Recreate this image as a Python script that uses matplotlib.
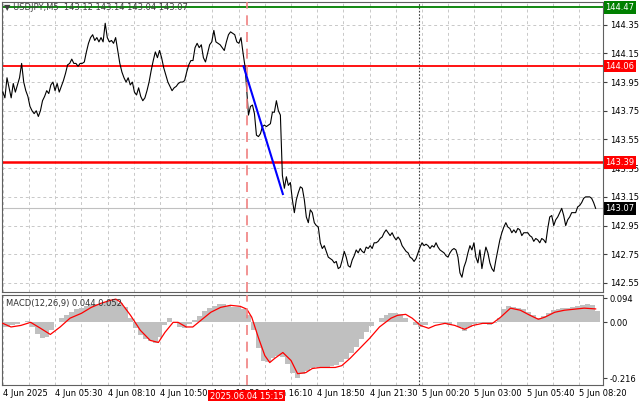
import numpy as np
import matplotlib
matplotlib.use('Agg')
import matplotlib.pyplot as plt

# price closes, first session (up to the 15:15 event) and after it
close_a = [143.88, 143.84, 143.98, 143.91, 143.84, 143.94, 143.88, 143.93, 143.98, 144.08, 143.95, 143.89,
           143.85, 143.78, 143.75, 143.73, 143.75, 143.71, 143.75, 143.82, 143.85, 143.89, 143.87, 143.93,
           143.95, 143.89, 143.94, 143.88, 143.92, 143.96, 144.01, 144.07, 144.08, 144.11, 144.08, 144.08,
           144.06, 144.08, 144.08, 144.09, 144.16, 144.22, 144.26, 144.28, 144.24, 144.26, 144.23, 144.26,
           144.23, 144.36, 144.26, 144.23, 144.24, 144.22, 144.26, 144.17, 144.08, 144.02, 143.98, 143.95,
           143.98, 143.93, 143.95, 143.88, 143.86, 143.91, 143.85, 143.82, 143.84, 143.89, 143.95, 144.03,
           144.10, 144.16, 144.12, 144.17, 144.12, 144.05, 144.00, 143.95, 143.92, 143.89, 143.91, 143.92,
           143.94, 143.95, 143.95, 143.96, 144.02, 144.07, 144.10, 144.10, 144.19, 144.22, 144.19, 144.21,
           144.12, 144.09, 144.15, 144.21, 144.23, 144.31, 144.23, 144.22, 144.21, 144.19, 144.17, 144.23,
           144.28, 144.30, 144.29, 144.28, 144.23, 144.22, 144.26, 144.15, 144.05]
close_b = [143.72, 143.78, 143.79, 143.73, 143.58, 143.57, 143.59, 143.64, 143.65, 143.64, 143.65, 143.66,
           143.74, 143.74, 143.82, 143.75, 143.72, 143.30, 143.21, 143.29, 143.23, 143.25, 143.13, 143.04,
           143.13, 143.18, 143.22, 143.21, 143.13, 143.01, 142.97, 143.06, 143.04, 142.97, 142.95, 142.94,
           142.83, 142.79, 142.81, 142.77, 142.73, 142.72, 142.71, 142.69, 142.70, 142.65, 142.66, 142.71,
           142.77, 142.73, 142.67, 142.66, 142.71, 142.74, 142.78, 142.76, 142.79, 142.77, 142.76, 142.80,
           142.79, 142.81, 142.79, 142.83, 142.83, 142.84, 142.86, 142.87, 142.90, 142.92, 142.90, 142.88,
           142.90, 142.87, 142.85, 142.87, 142.85, 142.81, 142.79, 142.77, 142.76, 142.73, 142.72, 142.70,
           142.72, 142.76, 142.80, 142.83, 142.81, 142.82, 142.81, 142.79, 142.81, 142.80, 142.83, 142.80,
           142.78, 142.77, 142.76, 142.74, 142.73, 142.76, 142.78, 142.79, 142.78, 142.73, 142.62, 142.59,
           142.66, 142.70, 142.76, 142.81, 142.78, 142.83, 142.73, 142.69, 142.78, 142.65, 142.73, 142.80,
           142.76, 142.69, 142.65, 142.63, 142.71, 142.78, 142.85, 142.90, 142.94, 142.97, 142.94, 142.93,
           142.90, 142.92, 142.90, 142.93, 142.92, 142.88, 142.90, 142.90, 142.90, 142.88, 142.87, 142.84,
           142.86, 142.85, 142.83, 142.86, 142.85, 142.83, 142.93, 143.01, 143.02, 142.95, 142.99, 143.01,
           143.04, 143.07, 143.02, 142.95, 142.99, 143.01, 143.04, 143.04, 143.04, 143.08, 143.09, 143.11,
           143.14, 143.15, 143.15, 143.15, 143.14, 143.11, 143.07]

# MACD histogram, one value every 3 bars
macd_hist = [-0.02, -0.02, -0.01, -0.005, 0.0, 0.005, -0.02, -0.045, -0.06, -0.055, -0.03, 0.0,
             0.016, 0.03, 0.04, 0.05, 0.055, 0.062, 0.066, 0.07, 0.074, 0.08, 0.086, 0.085,
             0.075, 0.06, 0.016, -0.023, -0.05, -0.065, -0.072, -0.082, -0.058, -0.01, 0.018, 0.0,
             -0.02, -0.023, -0.008, 0.008, 0.025, 0.045, 0.055, 0.064, 0.072, 0.07, 0.064, 0.06,
             0.058, 0.05, 0.03, -0.03, -0.1, -0.15, -0.152, -0.14, -0.13, -0.135, -0.16, -0.195,
             -0.214, -0.2, -0.188, -0.177, -0.175, -0.175, -0.173, -0.17, -0.165, -0.155, -0.143, -0.12,
             -0.095, -0.065, -0.036, -0.015, 0.0, 0.018, 0.028, 0.035, 0.036, 0.034, 0.018, 0.0,
             -0.012, -0.018, -0.012, 0.0, -0.003, -0.004, -0.004, -0.012, 0.0, -0.018, -0.035, -0.02,
             -0.005, -0.004, -0.004, -0.01, -0.004, 0.015, 0.05, 0.062, 0.058, 0.056, 0.05, 0.042,
             0.028, 0.018, 0.024, 0.036, 0.048, 0.051, 0.054, 0.057, 0.059, 0.062, 0.068, 0.07,
             0.066, 0.044]

sig_bar = [0, 5, 11, 17, 23, 29, 35, 41, 48, 54, 60, 66, 69, 72, 78, 84, 90, 95, 99, 104, 107, 112, 116,
           121, 127, 133, 139, 145, 149, 152, 156, 160, 163, 166, 171, 176, 180, 185, 189, 194, 203, 207,
           212, 218, 224, 230, 237, 241, 246, 250, 255, 260, 264, 270, 276, 282, 287, 293, 299, 304, 310,
           316, 322, 327, 331, 337, 343, 349, 355, 362]
sig_val = [-0.004, -0.018, -0.012, 0.0, -0.023, -0.047, -0.018, 0.016, 0.035, 0.058, 0.074, 0.086, 0.09,
           0.078, 0.027, -0.031, -0.07, -0.078, -0.039, 0.0, 0.0, -0.018, -0.018, 0.008, 0.039, 0.058,
           0.066, 0.062, 0.051, 0.02, -0.058, -0.129, -0.156, -0.14, -0.117, -0.148, -0.199, -0.195,
           -0.179, -0.175, -0.175, -0.168, -0.14, -0.101, -0.062, -0.018, 0.016, 0.027, 0.031, 0.016,
           -0.012, -0.023, -0.012, -0.004, -0.012, -0.027, -0.012, -0.004, -0.004, 0.02, 0.055, 0.047,
           0.027, 0.012, 0.02, 0.039, 0.047, 0.051, 0.055, 0.052]

time_labels = ['4 Jun 2025', '4 Jun 05:30', '4 Jun 08:10', '4 Jun 10:50', '4 Jun 13:30', '4 Jun 16:10',
               '4 Jun 18:50', '4 Jun 21:30', '5 Jun 00:20', '5 Jun 03:00', '5 Jun 05:40', '5 Jun 08:20']
price_ticks = [142.55, 142.75, 142.95, 143.15, 143.35, 143.55, 143.75, 143.95, 144.15, 144.35]
level_green = 144.47
level_upper = 144.06
level_lower = 143.39
last_price = 143.07
event_bar = 149
day_bar = 254
trend = ([147, 171], [144.06, 143.17])

plt.rcParams['font.family'] = ['DejaVu Sans']
fs = 6

fig = plt.figure(figsize=(6.4, 4.01), dpi=100)
ax = fig.add_axes([2 / 640, 1 - 292 / 401, 601 / 640, 290 / 401])
axm = fig.add_axes([2 / 640, 1 - 385 / 401, 601 / 640, 90 / 401])

xmax = 366.5
for a in (ax, axm):
    a.set_xlim(-0.5, xmax)
    for b in range(0, 367, 16):
        a.axvline(b, color='#c8c8c8', lw=0.7, ls=(0, (3, 3)), zorder=0)
    a.axvline(day_bar, color='#404040', lw=0.8, ls=(0, (1.5, 1.5)), zorder=1)
    a.axvline(event_bar, color='#f08080', lw=1.2, ls=(0, (6, 4)), zorder=4)
    for s in a.spines.values():
        s.set_color('#606060')
        s.set_linewidth(0.8)
    a.yaxis.tick_right()
    a.tick_params(axis='y', labelsize=fs, length=3, pad=2, color='#404040')
    a.tick_params(axis='x', length=0)

# main price panel
ax.set_ylim(142.487, 144.508)
ax.set_yticks(price_ticks)
ax.set_yticklabels([f'{v:.2f}' for v in price_ticks])
for v in price_ticks:
    ax.axhline(v, color='#c8c8c8', lw=0.7, ls=(0, (3, 3)), zorder=0)
ax.set_xticks([])

bars_a = np.linspace(0, 148, len(close_a))
bars_b = np.linspace(150, 362, len(close_b))
ax.plot(np.concatenate([bars_a, bars_b]), close_a + close_b, color='black', lw=0.8, zorder=3)

ax.axhline(last_price, color='#c0c0c0', lw=0.8, zorder=1)
ax.axhline(level_green, color='#008000', lw=1.3, zorder=2)
ax.axhline(level_upper, color='#ff0000', lw=1.3, zorder=2)
ax.axhline(level_lower, color='#ff0000', lw=1.8, zorder=2)
ax.plot(trend[0], trend[1], color='#0000ff', lw=1.5, zorder=5)

for v, bg in [(level_green, '#008000'), (level_upper, '#ff0000'), (level_lower, '#ff0000'), (last_price, 'black')]:
    ax.text(1.004, v, f'{v:.2f}', transform=ax.get_yaxis_transform(), fontsize=fs, color='white',
            va='center', ha='left', zorder=10, clip_on=False,
            bbox=dict(boxstyle='square,pad=0.2', fc=bg, ec='none'))

ax.text(0.004, 0.995, '\u25bc USDJPY,M5  143.12 143.14 143.04 143.07', transform=ax.transAxes,
        fontsize=fs, va='top', ha='left', color='#404040')

# MACD panel
axm.set_ylim(-0.243, 0.106)
axm.set_yticks([0.094, 0.0, -0.216])
axm.set_yticklabels(['0.094', '0.00', '-0.216'])
axm.bar(np.arange(len(macd_hist)) * 3, macd_hist, width=3, color='#c0c0c0', lw=0, zorder=2)
axm.plot(sig_bar, sig_val, color='#ff0000', lw=0.9, zorder=3)
axm.text(0.006, 0.96, 'MACD(12,26,9) 0.044 0.052', transform=axm.transAxes, fontsize=fs,
         va='top', ha='left', color='#303030')

tick_bars = np.arange(len(time_labels)) * 32
axm.set_xticks(tick_bars)
axm.set_xticklabels(time_labels, fontsize=fs, ha='left')
axm.tick_params(axis='x', pad=3)
axm.text(event_bar, -0.27, '2025.06.04 15:15', fontsize=fs, color='white', ha='center', va='top',
         zorder=10, clip_on=False, bbox=dict(boxstyle='square,pad=0.2', fc='#ff0000', ec='none'))

fig.savefig('out.png', dpi=100, facecolor='white')
